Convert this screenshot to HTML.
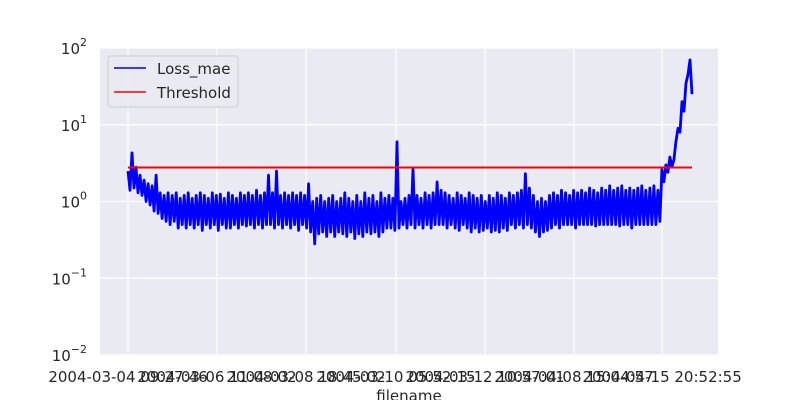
<!DOCTYPE html>
<html><head><meta charset="utf-8"><style>
body{margin:0;background:#fff;}
svg text{font-family:"DejaVu Sans","Liberation Sans",sans-serif;fill:#262626;}
</style></head><body>
<svg id="chart" width="800" height="400" xmlns="http://www.w3.org/2000/svg">
<rect x="100" y="48" width="618" height="307" fill="#eaeaf2"/>
<g id="grid"></g>
<g id="series"></g>
<g id="axes"></g>
<g>
<rect x="108" y="56" width="130" height="51" rx="3" fill="#eaeaf2" stroke="#cccccc" fill-opacity="0.8"/>
<line x1="114" y1="68" x2="146" y2="68" stroke="#0000ff" stroke-width="1.5"/>
<text x="157" y="74" font-size="15">Loss_mae</text>
<line x1="114" y1="92" x2="146" y2="92" stroke="#ff0000" stroke-width="1.5"/>
<text x="157" y="98" font-size="15">Threshold</text>
</g>
<text x="409" y="401" font-size="15" text-anchor="middle">filename</text>
</svg>
<script>
const loss = [2.5,1.4,4.3,1.5,2.8,1.3,2.2,1.2,1.9,1.0,
1.7,0.9,1.6,0.75,2.2,0.7,1.3,0.6,1.2,0.55,
1.3,0.5,1.2,0.55,1.3,0.45,1.1,0.5,1.2,0.45,
1.3,0.5,1.1,0.45,1.2,0.5,1.3,0.42,1.2,0.5,
1.1,0.45,1.3,0.5,1.2,0.42,1.25,0.5,1.1,0.45,
1.3,0.45,1.2,0.5,1.1,0.45,1.3,0.5,1.2,0.48,
1.3,0.5,1.2,0.45,1.4,0.5,1.2,0.45,1.3,0.5,
2.2,0.5,1.3,0.45,2.5,0.5,1.2,0.45,1.3,0.5,
1.2,0.45,1.3,0.5,1.2,0.42,1.3,0.5,1.2,0.45,
1.7,0.4,1.0,0.28,1.1,0.38,1.2,0.4,1.0,0.35,
1.1,0.4,1.2,0.35,1.0,0.4,1.1,0.38,1.3,0.35,
1.1,0.4,1.0,0.33,1.2,0.38,1.0,0.35,1.3,0.4,
1.1,0.38,1.2,0.4,1.0,0.35,1.3,0.4,1.1,0.45,
1.2,0.45,1.1,0.42,6.0,0.45,1.0,0.5,1.1,0.45,
1.2,0.5,2.7,0.45,1.2,0.5,1.1,0.45,1.3,0.5,
1.2,0.45,1.3,0.5,1.8,0.5,1.4,0.5,1.3,0.45,
1.2,0.5,1.1,0.45,1.3,0.42,1.2,0.5,1.1,0.45,
1.3,0.4,1.2,0.45,1.1,0.4,1.2,0.42,1.0,0.45,
1.2,0.4,1.1,0.42,1.3,0.4,1.2,0.45,1.1,0.42,
1.3,0.5,1.2,0.45,1.3,0.5,1.4,0.45,2.3,0.5,
1.5,0.45,1.2,0.4,1.0,0.35,1.1,0.4,1.0,0.42,
1.2,0.45,1.3,0.5,1.2,0.45,1.4,0.5,1.3,0.5,
1.2,0.5,1.4,0.45,1.3,0.5,1.4,0.5,1.3,0.5,
1.5,0.5,1.4,0.48,1.3,0.5,1.5,0.5,1.4,0.5,
1.6,0.5,1.4,0.5,1.5,0.48,1.6,0.5,1.4,0.5,
1.5,0.45,1.4,0.5,1.5,0.5,1.6,0.5,1.4,0.5,
1.5,0.5,1.6,0.5,1.4,0.55,
2.6,1.8,3.0,2.4,3.8,2.8,3.5,6,9,8,20,15,35,45,70,25];
const threshold = [2.77, 2.77];
const xTickIdx = [0, 44.3, 88.7, 133.5, 177.9, 222.2, 266.1];
const xTickLabels = ["2004-03-04 09:27:46","2004-03-06 11:08:02","2004-03-08 18:45:02","2004-03-10 05:52:15","2004-03-12 10:57:01","2004-04-08 15:04:57","2004-04-15 20:52:55"];
const yTicks = [-2, -1, 0, 1, 2];

const NS = "http://www.w3.org/2000/svg";
const N = loss.length;
const X0 = 128, X1 = 692;
const xs = i => X0 + i * (X1 - X0) / (N - 1);
const ys = v => 355 - (Math.log10(v) + 2) * (307 / 4);
function mk(tag, attrs, parent){const e=document.createElementNS(NS,tag);for(const k in attrs)e.setAttribute(k,attrs[k]);parent.appendChild(e);return e;}
const grid = document.getElementById('grid'), axes = document.getElementById('axes'), series = document.getElementById('series');

xTickIdx.forEach((t, k) => {
  const x = xs(t);
  const g = mk('line', {x1:x, x2:x, y1:48, y2:355, stroke:'#fff', 'stroke-width':1.2}, grid);
  
  
  const tx = mk('text', {x:x, y:382, 'font-size':15, 'text-anchor':'middle'}, axes);
  tx.textContent = xTickLabels[k];
  
  
});
yTicks.forEach(p => {
  const y = ys(Math.pow(10, p));
  const g = mk('line', {x1:100, x2:718, y1:y, y2:y, stroke:'#fff', 'stroke-width':1.2}, grid);
  
  
  const tx = mk('text', {x:87, y:y+6, 'font-size':15, 'text-anchor':'end'}, axes);
  
  
  const base = document.createElementNS(NS,'tspan'); base.textContent = '10'; tx.appendChild(base);
  const sup = document.createElementNS(NS,'tspan'); sup.setAttribute('dy','-8'); sup.setAttribute('font-size','11'); sup.textContent = String(p).replace('-','\u2212'); tx.appendChild(sup);
});

const pts = loss.map((v, i) => xs(i).toFixed(1) + ',' + ys(v).toFixed(1)).join(' ');
const line = mk('polyline', {points:pts, fill:'none', stroke:'#0000ff', 'stroke-width':2.8, 'stroke-linejoin':'round'}, series);


const th = mk('line', {x1:xs(0), x2:xs(N-1), y1:ys(threshold[0]), y2:ys(threshold[1]), stroke:'#ff0000', 'stroke-width':2}, series);


</script>
</body></html>
